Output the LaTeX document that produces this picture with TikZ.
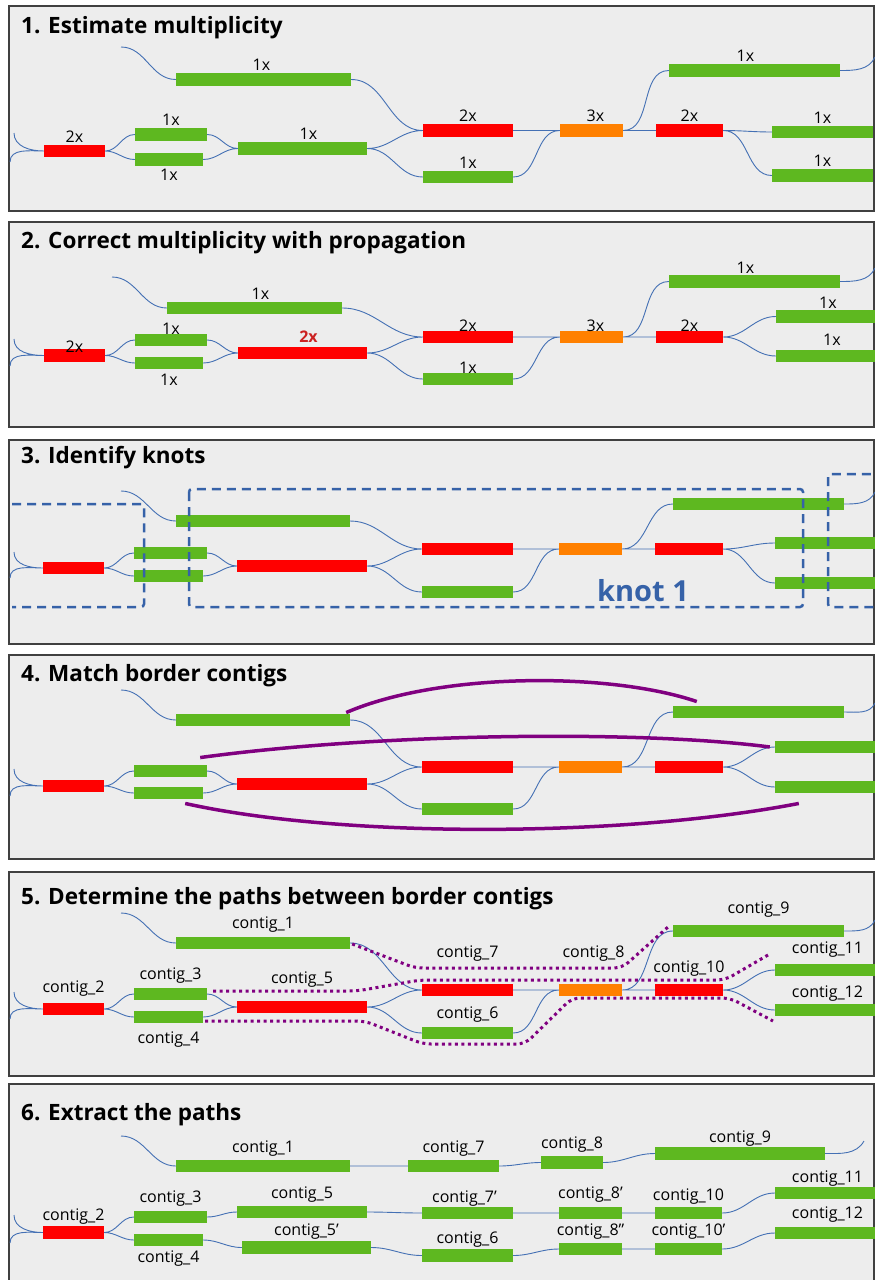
\documentclass[tikz,border=0pt]{standalone}
\usepackage{fontspec}
\setmainfont{Open Sans}
\usetikzlibrary{calc}

\definecolor{cgreen}{RGB}{94,184,32}
\definecolor{cred}{RGB}{255,0,0}
\definecolor{corange}{RGB}{255,128,0}
\definecolor{clink}{RGB}{68,112,180}
\definecolor{cpanel}{RGB}{237,237,237}
\definecolor{cpurple}{RGB}{128,0,128}
\definecolor{cknot}{RGB}{54,98,168}
\definecolor{credtext}{RGB}{204,34,34}

\tikzset{
    panel/.style={fill=cpanel, draw=black!75, line width=1.3pt},
    ptitle/.style={anchor=base west, inner sep=0pt, font=\bfseries\fontsize{22.5}{27}\selectfont},
    bar/.style={inner sep=0pt, minimum height=12.5pt, draw=none},
    gbar/.style={bar, fill=cgreen},
    rbar/.style={bar, fill=cred},
    obar/.style={bar, fill=corange},
    lbl/.style={inner sep=0pt, label distance=2pt, font=\fontsize{16}{19}\selectfont},
    link/.style={draw=clink, line width=0.9pt, out=0, in=180},
    knotline/.style={draw=cknot, line width=2.5pt, dash pattern=on 9pt off 6pt, rounded corners=3pt},
    knotname/.style={anchor=base, inner sep=0pt, text=cknot, font=\bfseries\fontsize{29}{34}\selectfont},
    match/.style={draw=cpurple, line width=3.5pt},
    pathdots/.style={draw=cpurple, line width=3pt, dash pattern=on 3pt off 3.5pt, rounded corners=8pt}
}

\begin{document}
\begin{tikzpicture}[x=1pt, y=-1pt]
    \useasboundingbox (0,0) rectangle (875,1280);
    \clip (0,0) rectangle (875,1280);

    % --- Panels ---
    \foreach \top/\bot in {6/211, 222/427, 440/644, 655/859, 872/1076, 1084/1300}
        \draw[panel] (9,\top) rectangle (874,\bot);

    \node[ptitle] (t1) at (21,33) {1. Estimate multiplicity};
    \node[ptitle] (t2) at (21,248) {2. Correct multiplicity with propagation};
    \node[ptitle] (t3) at (21,463) {3. Identify knots};
    \node[ptitle] (t4) at (21,681) {4. Match border contigs};
    \node[ptitle] (t5) at (21,904) {5. Determine the paths between border contigs};
    \node[ptitle] (t6) at (21,1120) {6. Extract the paths};

    % --- 1. Estimate multiplicity ---
    \node[rbar, minimum width=61pt, label={[lbl]above:2x}] (a1) at (74.5,151) {};
    \node[gbar, minimum width=72pt, label={[lbl]above:1x}] (b1) at (171,134.5) {};
    \node[gbar, minimum width=68pt, label={[lbl, label distance=3pt]below:1x}] (c1) at (169,159.5) {};
    \node[gbar, minimum width=129pt, label={[lbl, xshift=6pt]above:1x}] (d1) at (302.5,148.5) {};
    \node[gbar, minimum width=175pt, label={[lbl, xshift=-2pt]above:1x}] (e1) at (263.5,79.5) {};
    \node[rbar, minimum width=90pt, label={[lbl]above:2x}] (f1) at (468,130.5) {};
    \node[gbar, minimum width=90pt, label={[lbl]above:1x}] (g1) at (468,177) {};
    \node[obar, minimum width=63pt, label={[lbl, xshift=4pt]above:3x}] (h1) at (591.5,130.5) {};
    \node[rbar, minimum width=67pt, label={[lbl]above:2x}] (i1) at (689.5,130.5) {};
    \node[gbar, minimum width=171pt, label={[lbl, xshift=-9pt]above:1x}] (j1) at (754.5,70.5) {};
    \node[gbar, minimum width=101pt, label={[lbl]above:1x}] (k1) at (822.5,132) {};
    \node[gbar, minimum width=101pt, label={[lbl]above:1x}] (l1) at (822.5,175.5) {};
    \coordinate (s1) at (121,47);
    \coordinate (u1) at (14,133);
    \coordinate (v1) at (10,162);
    \coordinate (w1) at (875,57);

    \draw[link] (u1) to[out=-90] (a1.west) (v1) to[out=90] (a1.west)
        (a1.east) to (b1.west) (a1.east) to (c1.west)
        (b1.east) to (d1.west) (c1.east) to (d1.west)
        (s1) to (e1.west) (e1.east) to (f1.west)
        (d1.east) to (f1.west) (d1.east) to (g1.west)
        (f1.east) -- (h1.west) (g1.east) to (h1.west)
        (h1.east) to (j1.west) (h1.east) -- (i1.west)
        (i1.east) to (k1.west) (i1.east) to (l1.west)
        (j1.east) to[in=-115] (w1);

    % --- 2. Correct multiplicity ---
    \node[rbar, minimum width=61pt, label={[lbl, label distance=-4pt]above:2x}] (a2) at (74.5,355.5) {};
    \node[gbar, minimum width=72pt, label={[lbl, label distance=-1pt]above:1x}] (b2) at (171,340) {};
    \node[gbar, minimum width=68pt, label={[lbl, label distance=4pt]below:1x}] (c2) at (169,363) {};
    \node[rbar, minimum width=129pt, label={[lbl, label distance=4pt, xshift=6pt, text=credtext, font=\bfseries\fontsize{16}{19}\selectfont]above:2x}] (d2) at (302.5,353) {};
    \node[gbar, minimum width=175pt, label={[lbl, xshift=6pt]above:1x}] (e2) at (254.5,308) {};
    \node[rbar, minimum width=90pt, label={[lbl, label distance=-1pt]above:2x}] (f2) at (468,337) {};
    \node[gbar, minimum width=90pt, label={[lbl, label distance=-1pt]above:1x}] (g2) at (468,379) {};
    \node[obar, minimum width=63pt, label={[lbl, label distance=-1pt, xshift=4pt]above:3x}] (h2) at (591.5,337) {};
    \node[rbar, minimum width=67pt, label={[lbl, label distance=-1pt]above:2x}] (i2) at (689.5,337) {};
    \node[gbar, minimum width=171pt, label={[lbl, label distance=1pt, xshift=-9pt]above:1x}] (j2) at (754.5,281.5) {};
    \node[gbar, minimum width=104pt, label={[lbl, label distance=1pt]above:1x}] (k2) at (828,316.5) {};
    \node[gbar, minimum width=104pt, label={[lbl, label distance=4pt, xshift=4pt]above:1x}] (l2) at (828,356) {};
    \coordinate (s2) at (112,277);
    \coordinate (u2) at (14,339);
    \coordinate (v2) at (10,366);
    \coordinate (w2) at (875,268);

    \draw[link] (u2) to[out=-90] (a2.west) (v2) to[out=90] (a2.west)
        (a2.east) to (b2.west) (a2.east) to (c2.west)
        (b2.east) to (d2.west) (c2.east) to (d2.west)
        (s2) to (e2.west) (e2.east) to (f2.west)
        (d2.east) to (f2.west) (d2.east) to (g2.west)
        (f2.east) -- (h2.west) (g2.east) to (h2.west)
        (h2.east) to (j2.west) (h2.east) -- (i2.west)
        (i2.east) to (k2.west) (i2.east) to (l2.west)
        (j2.east) to[in=-115] (w2);

    % --- 3. Identify knots ---
    \node[rbar, minimum width=61pt] (a3) at (73.5,568) {};
    \node[gbar, minimum width=73pt] (b3) at (170.5,553) {};
    \node[gbar, minimum width=69pt] (c3) at (168.5,576) {};
    \node[rbar, minimum width=130pt] (d3) at (302,566) {};
    \node[gbar, minimum width=174pt] (e3) at (263,521) {};
    \node[rbar, minimum width=91pt] (f3) at (467.5,549) {};
    \node[gbar, minimum width=91pt] (g3) at (467.5,592) {};
    \node[obar, minimum width=63pt] (h3) at (590.5,549) {};
    \node[rbar, minimum width=68pt] (i3) at (689,549) {};
    \node[gbar, minimum width=171pt] (j3) at (758.5,504) {};
    \node[gbar, minimum width=105pt] (k3) at (827.5,543) {};
    \node[gbar, minimum width=105pt] (l3) at (827.5,583) {};
    \coordinate (s3) at (121,491);
    \coordinate (u3) at (14,552);
    \coordinate (v3) at (10,578);
    \coordinate (w3) at (875,492);

    \draw[link] (u3) to[out=-90] (a3.west) (v3) to[out=90] (a3.west)
        (a3.east) to (b3.west) (a3.east) to (c3.west)
        (b3.east) to (d3.west) (c3.east) to (d3.west)
        (s3) to (e3.west) (e3.east) to (f3.west)
        (d3.east) to (f3.west) (d3.east) to (g3.west)
        (f3.east) -- (h3.west) (g3.east) to (h3.west)
        (h3.east) to (j3.west) (h3.east) -- (i3.west)
        (i3.east) to (k3.west) (i3.east) to (l3.west)
        (j3.east) to[in=-115] (w3);

    % knot boxes
    \draw[knotline] (12,504) -- (144,504) -- (144,607) -- (12,607);
    \draw[knotline] (189,489) rectangle (803,607);
    \draw[knotline] (828,474) rectangle (900,607);
    \node[knotname] (knot1) at (643,601) {knot 1};

    % --- 4. Match border contigs ---
    \node[rbar, minimum width=61pt] (a4) at (73.5,786) {};
    \node[gbar, minimum width=73pt] (b4) at (170.5,771) {};
    \node[gbar, minimum width=69pt] (c4) at (168.5,793) {};
    \node[rbar, minimum width=130pt] (d4) at (302,784) {};
    \node[gbar, minimum width=174pt] (e4) at (263,720) {};
    \node[rbar, minimum width=91pt] (f4) at (467.5,767) {};
    \node[gbar, minimum width=91pt] (g4) at (467.5,809) {};
    \node[obar, minimum width=63pt] (h4) at (590.5,767) {};
    \node[rbar, minimum width=68pt] (i4) at (689,767) {};
    \node[gbar, minimum width=171pt] (j4) at (758.5,712) {};
    \node[gbar, minimum width=105pt] (k4) at (827.5,747) {};
    \node[gbar, minimum width=105pt] (l4) at (827.5,787) {};
    \coordinate (s4) at (121,690);
    \coordinate (u4) at (14,769);
    \coordinate (v4) at (10,796);
    \coordinate (w4) at (875,703);

    \draw[link] (u4) to[out=-90] (a4.west) (v4) to[out=90] (a4.west)
        (a4.east) to (b4.west) (a4.east) to (c4.west)
        (b4.east) to (d4.west) (c4.east) to (d4.west)
        (s4) to (e4.west) (e4.east) to (f4.west)
        (d4.east) to (f4.west) (d4.east) to (g4.west)
        (f4.east) -- (h4.west) (g4.east) to (h4.west)
        (h4.east) to (j4.west) (h4.east) -- (i4.west)
        (i4.east) to (k4.west) (i4.east) to (l4.west)
        (j4.east) to[in=-115] (w4);

    % matched border contigs
    \draw[match] ($(e4.north east)+(-4,-1)$) .. controls (440,672) and (610,672) .. ($(j4.north west)+(24,-4)$);
    \draw[match] ($(b4.north east)+(-7,-7)$) .. controls (380,733) and (640,730) .. ($(k4.west)+(-5,0)$);
    \draw[match] ($(c4.south east)+(-18,4)$) .. controls (340,838) and (620,838) .. ($(l4.south west)+(24,10)$);

    % --- 5. Determine the paths ---
    \node[rbar, minimum width=61pt, label={[lbl, label distance=6pt]above:contig\_2}] (a5) at (73.5,1009) {};
    \node[gbar, minimum width=73pt, label={[lbl, label distance=4pt]above:contig\_3}] (b5) at (170.5,994) {};
    \node[gbar, minimum width=69pt, label={[lbl, label distance=8pt]below:contig\_4}] (c5) at (168.5,1017) {};
    \node[rbar, minimum width=130pt, label={[lbl, label distance=13pt]above:contig\_5}] (d5) at (302,1007) {};
    \node[gbar, minimum width=174pt, label={[lbl, label distance=4pt]above:contig\_1}] (e5) at (263,943) {};
    \node[rbar, minimum width=91pt, label={[lbl, label distance=22pt]above:contig\_7}] (f5) at (467.5,990) {};
    \node[gbar, minimum width=91pt, label={[lbl, label distance=4pt]above:contig\_6}] (g5) at (467.5,1033) {};
    \node[obar, minimum width=63pt, label={[lbl, label distance=22pt, xshift=3pt]above:contig\_8}] (h5) at (590.5,990) {};
    \node[rbar, minimum width=68pt, label={[lbl, label distance=7pt]above:contig\_10}] (i5) at (689,990) {};
    \node[gbar, minimum width=171pt, label={[lbl, label distance=7pt]above:contig\_9}] (j5) at (758.5,931) {};
    \node[gbar, minimum width=105pt, label={[lbl, label distance=6pt]above:contig\_11}] (k5) at (827.5,970) {};
    \node[gbar, minimum width=105pt, label={[lbl, label distance=2pt]above:contig\_12}] (l5) at (827.5,1010) {};
    \coordinate (s5) at (121,913);
    \coordinate (u5) at (14,992);
    \coordinate (v5) at (10,1019);
    \coordinate (w5) at (875,920);

    \draw[link] (u5) to[out=-90] (a5.west) (v5) to[out=90] (a5.west)
        (a5.east) to (b5.west) (a5.east) to (c5.west)
        (b5.east) to (d5.west) (c5.east) to (d5.west)
        (s5) to (e5.west) (e5.east) to (f5.west)
        (d5.east) to (f5.west) (d5.east) to (g5.west)
        (f5.east) -- (h5.west) (g5.east) to (h5.west)
        (h5.east) to (j5.west) (h5.east) -- (i5.west)
        (i5.east) to (k5.west) (i5.east) to (l5.west)
        (j5.east) to[in=-115] (w5);

    % paths between border contigs
    \draw[pathdots] ($(e5.east)+(2,1)$) -- (415,968) -- (622,968) -- (668,927);
    \draw[pathdots] ($(b5.east)+(6,-3)$) -- (357,991) -- (420,980) -- (725,980) -- (768,955);
    \draw[pathdots] ($(c5.east)+(2,4)$) -- (365,1021) -- (423,1044) -- (525,1044) -- (572,998) -- (730,998) -- (773,1021);

    % --- 6. Extract the paths ---
    \node[rbar, minimum width=61pt, label={[lbl]above:contig\_2}] (a6) at (73.5,1232.5) {};
    \node[gbar, minimum width=73pt, label={[lbl, label distance=4pt]above:contig\_3}] (b6) at (170.5,1217) {};
    \node[gbar, minimum width=69pt, label={[lbl, label distance=4pt]below:contig\_4}] (c6) at (168.5,1240) {};
    \node[gbar, minimum width=130pt, label={[lbl, label distance=3pt]above:contig\_5}] (d6) at (302,1212) {};
    \node[gbar, minimum width=129pt, label={[lbl]above:contig\_5’}] (m6) at (306.5,1247.5) {};
    \node[gbar, minimum width=174pt, label={[lbl, label distance=3pt]above:contig\_1}] (e6) at (263,1166) {};
    \node[gbar, minimum width=91pt, label={[lbl, label distance=3pt]above:contig\_7}] (f6) at (453.5,1166) {};
    \node[gbar, minimum width=62pt, label={[lbl, label distance=4pt]above:contig\_8}] (h6) at (572,1162.5) {};
    \node[gbar, minimum width=170pt, label={[lbl, label distance=1pt]above:contig\_9}] (j6) at (740,1153.5) {};
    \node[gbar, minimum width=91pt, label={[lbl, label distance=0pt, xshift=-3pt]above:contig\_7’}] (n6) at (467.5,1213) {};
    \node[gbar, minimum width=63pt, label={[lbl, label distance=4pt]above:contig\_8’}] (o6) at (590.5,1213) {};
    \node[gbar, minimum width=67pt, label={[lbl]above:contig\_10}] (i6) at (688.5,1213) {};
    \node[gbar, minimum width=105pt, label={[lbl, label distance=0pt]above:contig\_11}] (k6) at (827.5,1193) {};
    \node[gbar, minimum width=91pt, label={[lbl]above:contig\_6}] (g6) at (467.5,1255.5) {};
    \node[gbar, minimum width=63pt, label={[lbl, label distance=3pt]above:contig\_8”}] (p6) at (590.5,1249) {};
    \node[gbar, minimum width=67pt, label={[lbl, label distance=3pt]above:contig\_10’}] (q6) at (688.5,1249) {};
    \node[gbar, minimum width=105pt, label={[lbl, label distance=4pt]above:contig\_12}] (l6) at (827.5,1233) {};
    \coordinate (s6) at (121,1136);
    \coordinate (u6) at (14,1215);
    \coordinate (v6) at (10,1243);
    \coordinate (w6) at (864,1141);

    \draw[link] (u6) to[out=-90] (a6.west) (v6) to[out=90] (a6.west)
        (a6.east) to (b6.west) (a6.east) to (c6.west)
        (b6.east) to (d6.west) (c6.east) to (m6.west)
        (s6) to (e6.west) (e6.east) -- (f6.west)
        (f6.east) to (h6.west) (h6.east) to (j6.west)
        (j6.east) to[in=-120] (w6)
        (d6.east) to (n6.west) (n6.east) -- (o6.west)
        (o6.east) -- (i6.west) (i6.east) to (k6.west)
        (m6.east) to (g6.west) (g6.east) to (p6.west)
        (p6.east) -- (q6.west) (q6.east) to (l6.west);

\end{tikzpicture}
\end{document}
